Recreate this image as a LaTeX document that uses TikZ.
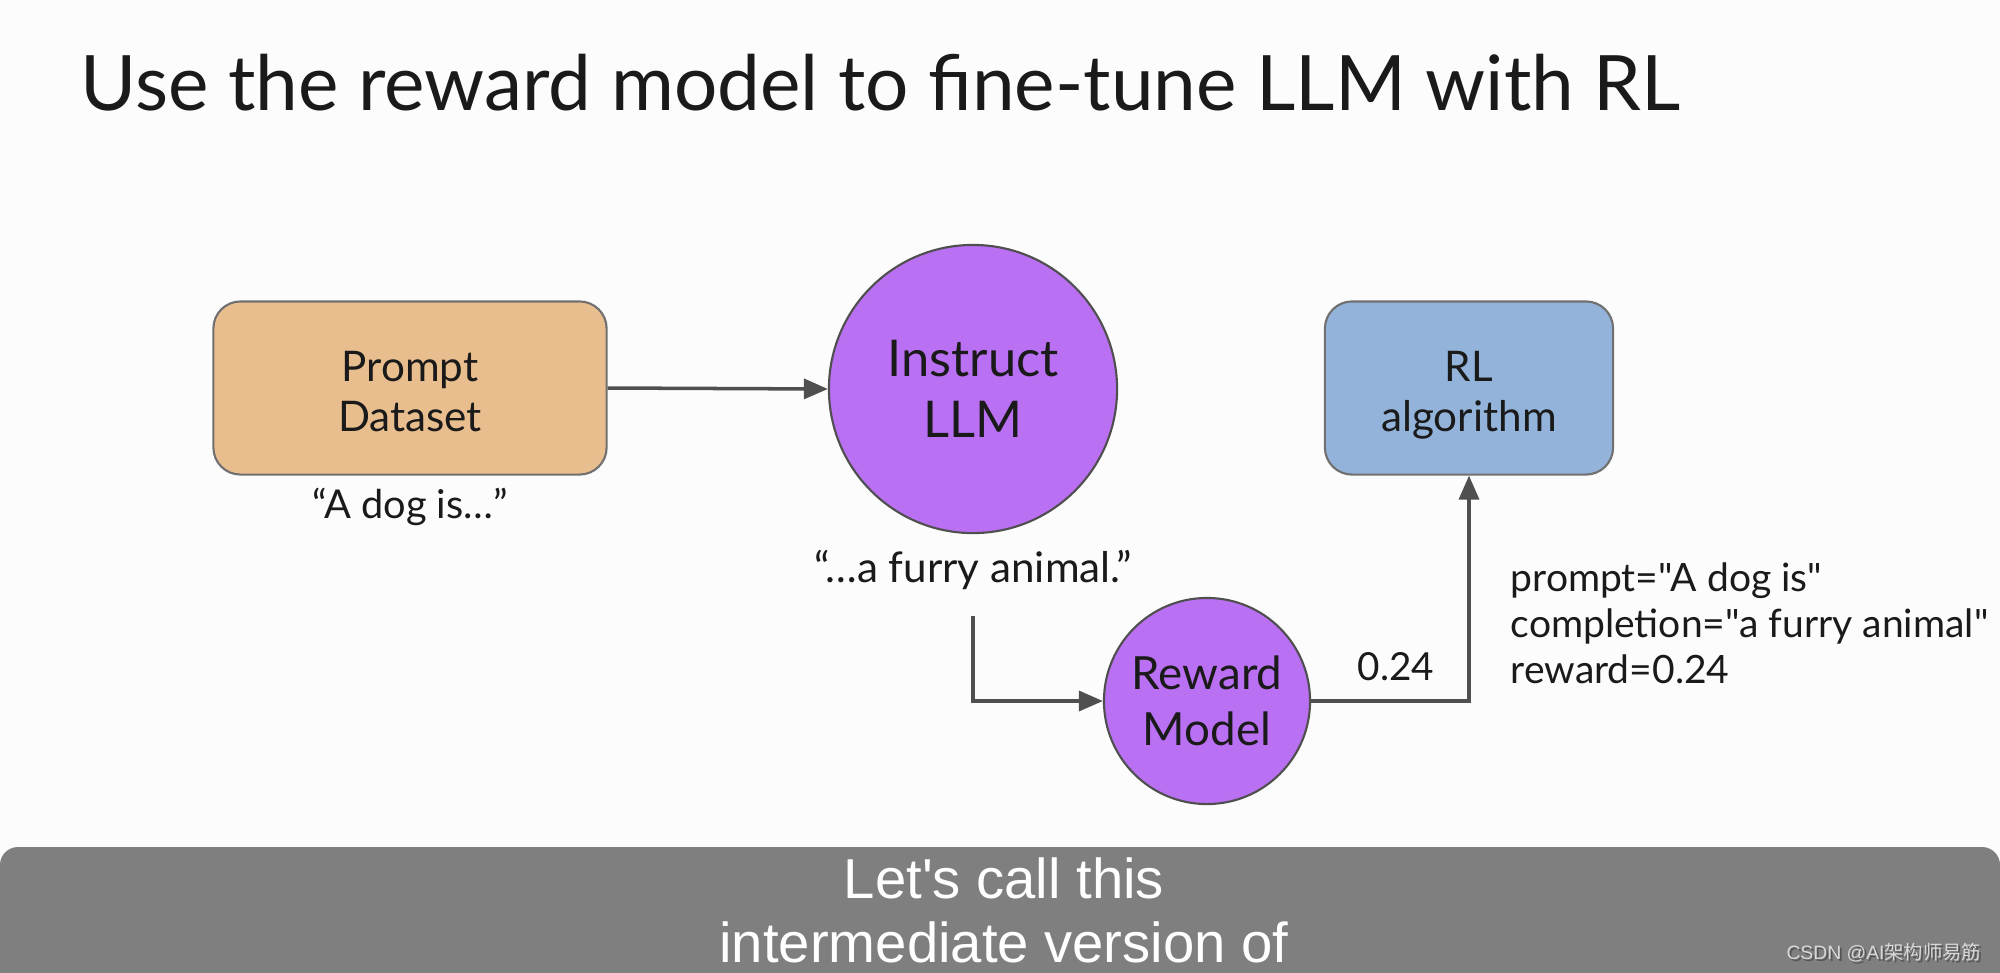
\documentclass[tikz,border=0pt]{standalone}
\usepackage{fontspec}
\setmainfont{Lato}
\newfontfamily\rawlato{Lato}
\newfontfamily\subfont{Liberation Sans}
\newfontfamily\cjk{Noto Sans CJK SC}
\usetikzlibrary{arrows.meta}
\definecolor{bgc}{HTML}{FCFCFC}
\definecolor{orangefill}{HTML}{E9BE8E}
\definecolor{purplefill}{HTML}{BA70F2}
\definecolor{bluefill}{HTML}{93B3DA}
\definecolor{edgegray}{HTML}{707070}
\definecolor{linegray}{HTML}{4F4F4F}
\definecolor{bargray}{HTML}{7F7F7F}
\definecolor{textblack}{HTML}{1A1A1A}
\definecolor{wmgray}{HTML}{D8D8D8}
\definecolor{wmshadow}{HTML}{555555}
\tikzset{
  boxnode/.style={draw=edgegray, line width=0.6pt, rounded corners=0.27cm,
    minimum height=1.73cm},
  boxtext/.style={align=center, text=textblack, inner sep=0pt,
    font=\fontsize{12}{14.2}\selectfont},
  circnode/.style={draw=linegray, line width=0.6pt, circle, fill=purplefill,
    align=center, text=textblack, inner sep=0pt},
  conn/.style={draw=linegray, line width=1pt,
    -{Triangle[length=0.24cm, width=0.2cm]}},
  plain/.style={text=textblack, inner sep=0pt},
  infotext/.style={plain, anchor=base west, font=\rawlato\fontsize{11.1}{13}\selectfont},
  subtext/.style={text=white, inner sep=0pt, anchor=base, font=\subfont\fontsize{16}{19}\selectfont},
}
\begin{document}
\begin{tikzpicture}[x=0.01cm, y=-0.01cm]
\fill[bgc] (0,0) rectangle (2000,972);
\useasboundingbox (0,0) rectangle (2000,972);

\node[plain, anchor=base west, font=\fontsize{21.75}{26}\selectfont] (title) at (80,110)
  {Use the reward model to fine-tune LLM with RL};

\node[boxnode, fill=orangefill, minimum width=3.93cm] (pd) at (410,388) {};
\node[boxtext] (pdtext) at ([yshift=-0.04cm]pd.center) {Prompt\\Dataset};
\node[plain, font=\fontsize{11.3}{14}\selectfont, anchor=base] (q1) at (410,518) {“A dog is…”};

\node[circnode, minimum size=2.88cm, font=\fontsize{14.4}{17.5}\selectfont] (llm) at (973,389) {Instruct\\LLM};
\node[plain, font=\fontsize{12}{14}\selectfont, anchor=base] (q2) at (973,582) {“…a furry animal.”};

\node[boxnode, fill=bluefill, minimum width=2.88cm] (rl) at (1469,388) {};
\node[boxtext] (rltext) at ([yshift=-0.07cm]rl.center) {RL\\algorithm};

\node[circnode, minimum size=2.06cm, font=\fontsize{13}{16}\selectfont] (rm) at (1207,701) {Reward\\Model};

\node[plain, font=\fontsize{11}{13}\selectfont, anchor=base] (val) at (1396,680) {0.24};

\node[infotext] (t1) at (1510,591) {prompt="A dog is"};
\node[infotext] (t2) at (1510,637) {completion="a furry animal"};
\node[infotext] (t3) at (1510,683) {reward=0.24};

\coordinate (s2) at (973,616);
\draw[conn] (pd.east) -- (llm.west);
\draw[conn] (s2) |- (rm.west);
\draw[conn] (rm.east) -| (rl.south);

\begin{scope}
\clip (0,0) rectangle (2000,972);
\fill[bargray, rounded corners=0.18cm] (0,847) rectangle (2000,1010);
\end{scope}
\node[subtext] (sub1) at (1004,898) {Let's call this};
\node[subtext] (sub2) at (1004,962) {intermediate version of};
\node[text=wmshadow, inner sep=0pt, anchor=base east, font=\subfont\fontsize{5.5}{7}\selectfont] (wms) at (1984,961) {CSDN @AI{\cjk 架构师易筋}};
\node[text=wmgray, inner sep=0pt, anchor=base east, font=\subfont\fontsize{5.5}{7}\selectfont] (wm) at (1982,959) {CSDN @AI{\cjk 架构师易筋}};
\end{tikzpicture}
\end{document}
